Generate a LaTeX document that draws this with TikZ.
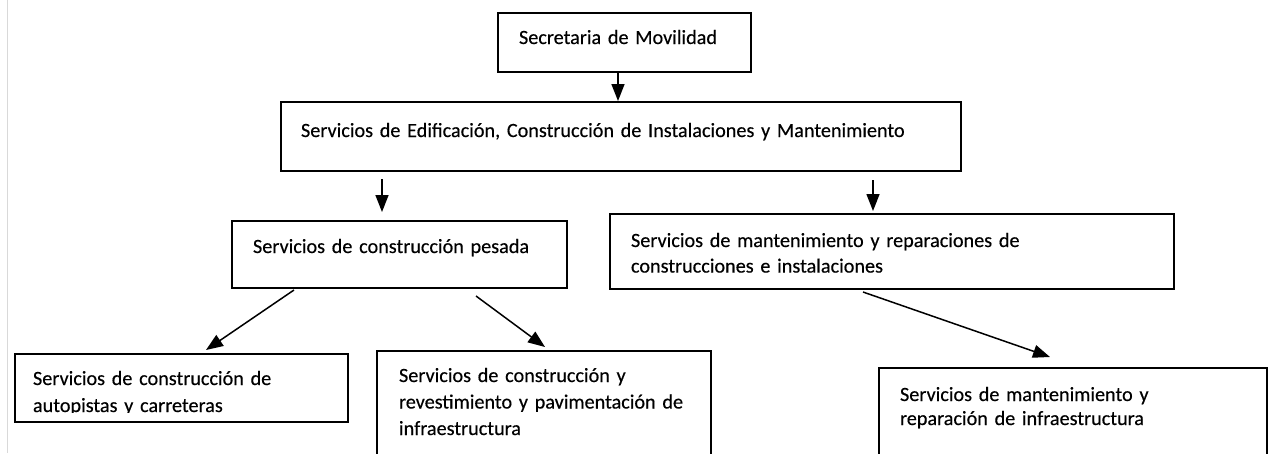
\documentclass[tikz,border=0pt]{standalone}
\usepackage{fontspec}
\setmainfont[FakeBold=0.35]{Carlito}
\usetikzlibrary{arrows.meta}
\begin{document}
\begin{tikzpicture}[x=1pt,y=-1pt,
  box/.style={draw, line width=2pt, anchor=north west, inner ysep=0pt, align=left,
    font=\fontsize{20.2}{25.6}\selectfont},
  conn/.style={line width=1.5pt, -{Triangle[length=17pt,width=13pt]}}]
\useasboundingbox (0,0) rectangle (1268,453);
\clip (0,0) rectangle (1268,453);
\fill[white] (0,0) rectangle (1268,453);
\draw[gray!30, line width=1pt] (7,0) -- (7,453);

\node[box, inner xsep=21pt, text width=211pt, text height=31pt, text depth=28pt] (b1) at (497,12)
  {\mbox{Secretaria de Movilidad}};
\node[box, inner xsep=20pt, text width=640pt, text height=35pt, text depth=34pt] (b2) at (280,101)
  {\mbox{Servicios de Edificación, Construcción de Instalaciones y Mantenimiento}};
\node[box, inner xsep=21pt, text width=293pt, text height=32pt, text depth=35pt] (b3) at (231,220)
  {\mbox{Servicios de construcción pesada}};
\node[box, inner xsep=21pt, text width=522pt, text height=33pt, text depth=42pt] (b4) at (609,213)
  {\mbox{Servicios de mantenimiento y reparaciones de}\\\mbox{construcciones e instalaciones}};
\node[box, inner xsep=18pt, text width=297pt, text height=31pt, text depth=37pt,
  font=\fontsize{20.2}{27}\selectfont] (b5) at (14,353)
  {\mbox{Servicios de construcción de}\\\mbox{autopistas y carreteras}};
\node[box, inner xsep=22pt, text width=290pt, text height=31pt, text depth=90pt,
  font=\fontsize{20.2}{26.5}\selectfont] (b6) at (376,350)
  {\mbox{Servicios de construcción y}\\\mbox{revestimiento y pavimentación de}\\\mbox{infraestructura}};
\node[box, inner xsep=21pt, text width=346pt, text height=33pt, text depth=80pt,
  font=\fontsize{20.2}{24}\selectfont] (b7) at (878,367)
  {\mbox{Servicios de mantenimiento y}\\\mbox{reparación de infraestructura}};
% cut-off descenders at the foot of b5
\fill[white] (16,412.5) rectangle (345,419.8);

\draw[conn] ([xshift=121pt]b1.south west) -- ([xshift=338pt]b2.north west);
\draw[conn] ([xshift=102pt,yshift=-7pt]b2.south west) -- ([xshift=151pt,yshift=8pt]b3.north west);
\draw[conn] ([xshift=593pt,yshift=-8pt]b2.south west) -- ([xshift=264pt,yshift=2pt]b4.north west);
\draw[conn] ([xshift=63pt,yshift=-1pt]b3.south west) -- ([xshift=192pt,yshift=3pt]b5.north west);
\draw[conn] ([xshift=245pt,yshift=-7pt]b3.south west) -- ([xshift=169pt,yshift=3pt]b6.north west);
\draw[conn] ([xshift=254pt,yshift=-2pt]b4.south west) -- ([xshift=172pt,yshift=10pt]b7.north west);
\end{tikzpicture}
\end{document}
